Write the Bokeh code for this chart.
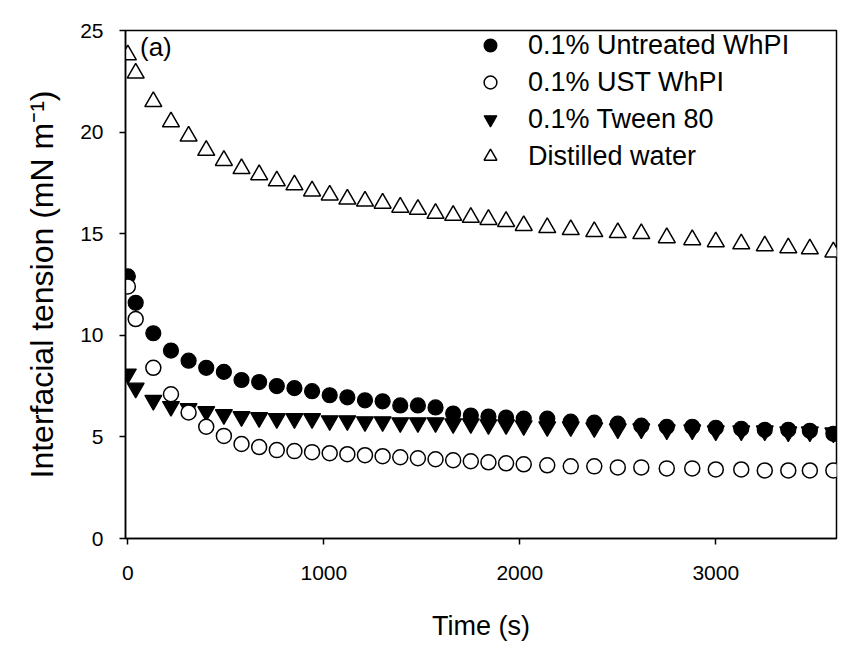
from bokeh.plotting import figure
from bokeh.models import Legend, LegendItem, Label, FixedTicker, ColumnDataSource
from bokeh.embed import file_html
from bokeh.resources import INLINE

time_s = [0, 40, 130, 220, 310, 400, 490, 580, 670, 760, 850, 940, 1030, 1120, 1210,
          1300, 1390, 1480, 1570, 1660, 1750, 1840, 1930, 2020, 2140, 2260, 2380, 2500,
          2620, 2750, 2880, 3000, 3130, 3250, 3370, 3480, 3600]

untreated = [12.9, 11.6, 10.1, 9.25, 8.75, 8.4, 8.2, 7.8, 7.7, 7.5, 7.4, 7.25, 7.05, 6.95, 6.8,
             6.75, 6.55, 6.55, 6.45, 6.15, 6.05, 6.0, 5.95, 5.9, 5.9, 5.75, 5.7, 5.65,
             5.55, 5.5, 5.5, 5.45, 5.4, 5.35, 5.35, 5.3, 5.15]

ust = [12.4, 10.8, 8.4, 7.1, 6.2, 5.5, 5.05, 4.65, 4.5, 4.35, 4.3, 4.25, 4.2, 4.15, 4.1,
       4.05, 4.0, 3.95, 3.9, 3.85, 3.8, 3.75, 3.7, 3.65, 3.6, 3.55, 3.55, 3.5,
       3.5, 3.45, 3.45, 3.4, 3.4, 3.35, 3.35, 3.35, 3.35]

tween = [8.1, 7.4, 6.8, 6.5, 6.4, 6.25, 6.1, 6.0, 5.95, 5.9, 5.9, 5.9, 5.8, 5.8, 5.75,
         5.75, 5.7, 5.7, 5.7, 5.65, 5.65, 5.6, 5.6, 5.55, 5.5, 5.5, 5.45, 5.4,
         5.4, 5.35, 5.35, 5.3, 5.3, 5.3, 5.25, 5.25, 5.2]

water = [23.8, 22.9, 21.5, 20.5, 19.8, 19.1, 18.6, 18.2, 17.9, 17.6, 17.4, 17.1, 16.9, 16.7, 16.6,
         16.5, 16.3, 16.2, 16.0, 15.9, 15.8, 15.7, 15.6, 15.4, 15.3, 15.2, 15.1, 15.05,
         15.0, 14.8, 14.7, 14.6, 14.5, 14.4, 14.3, 14.25, 14.1]

series_labels = ["0.1% Untreated WhPI", "0.1% UST WhPI", "0.1% Tween 80", "Distilled water"]
x_ticks = [0, 1000, 2000, 3000]
y_ticks = [0, 5, 10, 15, 20, 25]

FONT = "Liberation Sans"

p = figure(width=838, height=643, output_backend="svg", toolbar_location=None,
           x_range=(-12, 3616), y_range=(0, 25),
           min_border_left=125, min_border_right=2, min_border_top=30, min_border_bottom=102)
p.grid.visible = False
p.outline_line_color = "black"
p.outline_line_width = 1.5
p.background_fill_color = "white"
p.border_fill_color = "white"

src = ColumnDataSource(dict(t=time_s, a=untreated, b=ust, c=tween, d=water))

r_water = p.scatter("t", "d", source=src, marker="triangle", size=17,
                    fill_color="white", line_color="black", line_width=1.5)
r_a = p.scatter("t", "a", source=src, marker="circle", size=15,
                fill_color="black", line_color="black", line_width=1.2)
r_c = p.scatter("t", "c", source=src, marker="inverted_triangle", size=17,
                fill_color="black", line_color="black", line_width=1.2)
r_b = p.scatter("t", "b", source=src, marker="circle", size=15,
                fill_color="white", line_color="black", line_width=1.5)

legend = Legend(items=[LegendItem(label=series_labels[0], renderers=[r_a]),
                       LegendItem(label=series_labels[1], renderers=[r_b]),
                       LegendItem(label=series_labels[2], renderers=[r_c]),
                       LegendItem(label=series_labels[3], renderers=[r_water])],
                location=(349, 366), orientation="vertical",
                border_line_alpha=0, background_fill_alpha=0,
                label_text_font=FONT, label_text_font_size="27px", label_text_color="black",
                glyph_width=32, glyph_height=32, label_height=32, spacing=5,
                label_standoff=22, padding=0, margin=0)
p.add_layout(legend, "center")

p.add_layout(Label(x=62, y=24.95, text="(a)", text_font=FONT, text_font_size="26px",
                   text_baseline="top", text_color="black"))

for ax in (p.xaxis[0], p.yaxis[0]):
    ax.axis_line_color = "black"
    ax.axis_line_width = 1.5
    ax.major_tick_line_color = "black"
    ax.major_tick_line_width = 1.5
    ax.major_tick_out = 6
    ax.major_tick_in = 0
    ax.minor_tick_line_color = None
    ax.major_label_text_font = FONT
    ax.major_label_text_font_size = "21px"
    ax.major_label_text_color = "black"
    ax.axis_label_text_font = FONT
    ax.axis_label_text_font_style = "normal"
    ax.axis_label_text_color = "black"

p.xaxis.axis_label_text_font_size = "27px"
p.yaxis.axis_label_text_font_size = "32px"
p.xaxis.ticker = FixedTicker(ticks=x_ticks)
p.yaxis.ticker = FixedTicker(ticks=y_ticks)
p.xaxis.axis_label = "Time (s)"
p.yaxis.axis_label = "Interfacial tension (mN m\u207b\u00b9)"
p.xaxis.major_label_standoff = 21
p.yaxis.major_label_standoff = 16
p.xaxis.axis_label_standoff = 28
p.yaxis.axis_label_standoff = 17

open("out.html", "w").write(file_html(p, INLINE))
